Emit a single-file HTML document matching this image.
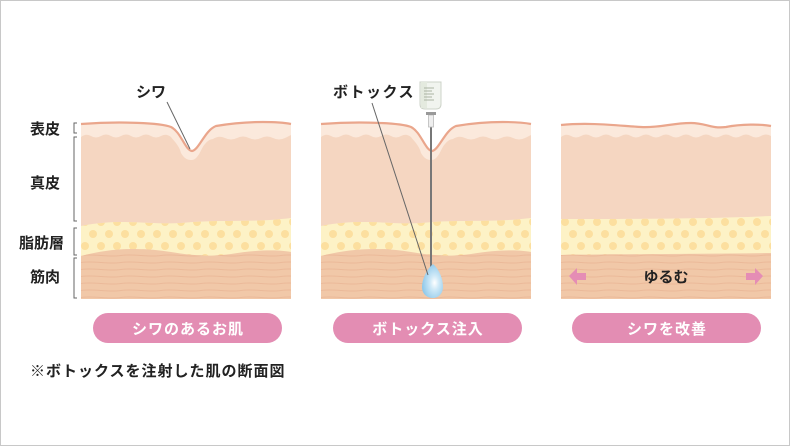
<!DOCTYPE html>
<html><head><meta charset="utf-8"><style>
html,body{margin:0;padding:0;background:#fff}
svg{display:block}
text{font-family:"Liberation Sans","Noto Sans CJK JP",sans-serif;font-weight:bold}
</style></head><body>
<svg width="790" height="446" viewBox="0 0 790 446" xmlns="http://www.w3.org/2000/svg">
<defs>
<pattern id="dots" x="0" y="214" width="16" height="24" patternUnits="userSpaceOnUse">
<circle cx="4" cy="8" r="4" fill="#fcdf9f"/>
<circle cx="12" cy="20" r="4" fill="#fcdf9f"/>
</pattern>
<pattern id="waves" x="0" y="0" width="80" height="7" patternUnits="userSpaceOnUse">
<path d="M0,3.5 C13,1.5 27,5.5 40,3.5 C53,1.5 67,5.5 80,3.5" fill="none" stroke="#ebb999" stroke-width="1"/>
</pattern>
<radialGradient id="drop" cx="0.6" cy="0.55" r="0.6">
<stop offset="0" stop-color="#ffffff"/><stop offset="0.35" stop-color="#cfe9f7"/><stop offset="1" stop-color="#8ec8ea"/>
</radialGradient>
<g id="wpanel">
<path d="M0,124 C40,121 80,123 90,127 C100,132 104,150 111,151 C118,150 124,130 135,126 C170,120 200,122 210,124 L210,299 L0,299Z" fill="#fbe9dc"/>
<path d="M0,137 q5,-4 10,-1 q5,3 10,0 q5,-3 10,0 q5,3 10,0 q5,-3 10,0 q5,3 10,0 q5,-3 10,0 q5,3 10,0 q5,-3 10,1 C92,140 98,145 100,153 C104,160 108,160 111,160 C118,159 120,148 124,144 q4,-5 8,-5 q6,-4 12,-1 q6,3 12,0 q6,-3 12,0 q6,3 12,0 q6,-3 12,0 q6,3 12,0 q6,-3 6,-3 L210,299 L0,299Z" fill="#f5d6c1"/>
<path d="M0,124 C40,121 80,123 90,127 C100,132 104,150 111,151 C118,150 124,130 135,126 C170,120 200,122 210,124" fill="none" stroke="#eaa68c" stroke-width="2.2"/>
<path d="M0,226 C40,218 70,225 100,223 C140,219 170,223 210,218 L210,299 L0,299Z" fill="#fdf2c6"/>
<path d="M0,226 C40,218 70,225 100,223 C140,219 170,223 210,218 L210,299 L0,299Z" fill="url(#dots)"/>
<path d="M0,256 C30,248 60,247 90,252 C120,257 135,256 150,254 C180,249 200,250 210,252 L210,299 L0,299Z" fill="#f1c8a8"/>
<path d="M0,256 C30,248 60,247 90,252 C120,257 135,256 150,254 C180,249 200,250 210,252 L210,299 L0,299Z" fill="url(#waves)"/>
</g>
</defs>
<rect x="0.5" y="0.5" width="789" height="445" fill="#fff" stroke="#c8c8c8"/>

<use href="#wpanel" transform="translate(81,0)"/>
<use href="#wpanel" transform="translate(321,0)"/>
<g transform="translate(561,0)">
<path d="M0,125 C30,122 60,126 80,127 C100,128 110,123 130,123 C145,123 150,129 165,127 C180,124 200,124 210,126 L210,299 L0,299Z" fill="#fbe9dc"/>
<path d="M0,137 q5,-4 10,-1 q5,3 10,0 q5,-3 10,0 q5,3 10,0 q5,-3 10,0 q5,3 10,0 q5,-3 10,0 q5,3 10,0 q5,-3 10,0 q5,3 10,0 q5,-3 10,0 q5,3 10,0 q5,-3 10,0 q5,3 10,0 q5,-3 10,0 q5,3 10,0 q5,-3 10,0 q5,3 10,0 q5,-3 10,0 q5,3 10,0 q5,-3 10,0 L210,299 L0,299Z" fill="#f5d6c1"/>
<path d="M0,125 C30,122 60,126 80,127 C100,128 110,123 130,123 C145,123 150,129 165,127 C180,124 200,124 210,126" fill="none" stroke="#eaa68c" stroke-width="2.2"/>
<path d="M0,219 C60,219 140,219 210,216 L210,299 L0,299Z" fill="#fdf2c6"/>
<path d="M0,219 C60,219 140,219 210,216 L210,299 L0,299Z" fill="url(#dots)"/>
<path d="M0,255 C60,254 140,254 210,253 L210,299 L0,299Z" fill="#f1c8a8"/>
<path d="M0,255 C60,254 140,254 210,253 L210,299 L0,299Z" fill="url(#waves)"/>
<polygon points="8,276 16,268 16,273 25,273 25,280 16,280 16,285" fill="#e58db5"/>
<polygon points="202,276 194,268 194,273 185,273 185,280 194,280 194,285" fill="#e58db5"/>
<text x="105" y="282" font-size="15" text-anchor="middle" fill="#222">ゆるむ</text>
</g>

<g font-size="15" fill="#222">
<text x="30" y="134">表皮</text>
<text x="30" y="188">真皮</text>
<text x="19" y="248">脂肪層</text>
<text x="30" y="282">筋肉</text>
</g>
<g fill="none" stroke="#666" stroke-width="1">
<path d="M77,123 h-3 v10 h3"/>
<path d="M77,137 h-3 v84 h3"/>
<path d="M77,228 h-3 v27 h3"/>
<path d="M77,258 h-3 v40 h3"/>
</g>

<text x="136" y="97" font-size="15" fill="#222">シワ</text>
<line x1="167" y1="102" x2="190" y2="149" stroke="#666" stroke-width="1"/>

<line x1="431" y1="125" x2="431" y2="272" stroke="#777" stroke-width="2"/>
<rect x="428.5" y="115" width="5" height="12" fill="#eee" stroke="#bbb" stroke-width="0.8"/>
<rect x="426" y="112" width="10" height="3" fill="#999"/>
<path d="M420,82 h21 v22 q0,5 -5,5 h-11 q-5,0 -5,-5Z" fill="#f1f4ef" stroke="#cdd3c8" stroke-width="1"/>
<rect x="421" y="82" width="6" height="26" fill="#e4eadf"/>
<g stroke="#aab3a3" stroke-width="1"><line x1="424" y1="88" x2="434" y2="88"/><line x1="424" y1="91" x2="432" y2="91"/><line x1="424" y1="94" x2="434" y2="94"/><line x1="424" y1="97" x2="432" y2="97"/><line x1="424" y1="100" x2="434" y2="100"/></g>
<path d="M433,264 C440,270 443,280 443,287 C443,294 438,298 433,298 C427,298 422,294 422,287 C422,280 426,270 433,264Z" fill="url(#drop)"/>
<text x="333" y="97" font-size="15" fill="#222" letter-spacing="1.5">ボトックス</text>
<line x1="372" y1="103" x2="428" y2="275" stroke="#666" stroke-width="1"/>

<rect x="93" y="313" width="189" height="30" rx="15" fill="#e38db3"/>
<rect x="333" y="313" width="189" height="30" rx="15" fill="#e38db3"/>
<rect x="572" y="313" width="189" height="30" rx="15" fill="#e38db3"/>
<g font-size="15" fill="#fff" text-anchor="middle" letter-spacing="1">
<text x="188" y="334">シワのあるお肌</text>
<text x="428" y="334">ボトックス注入</text>
<text x="667" y="334">シワを改善</text>
</g>
<text x="30" y="376" font-size="15" fill="#222" letter-spacing="1">※ボトックスを注射した肌の断面図</text>
</svg>
</body></html>
